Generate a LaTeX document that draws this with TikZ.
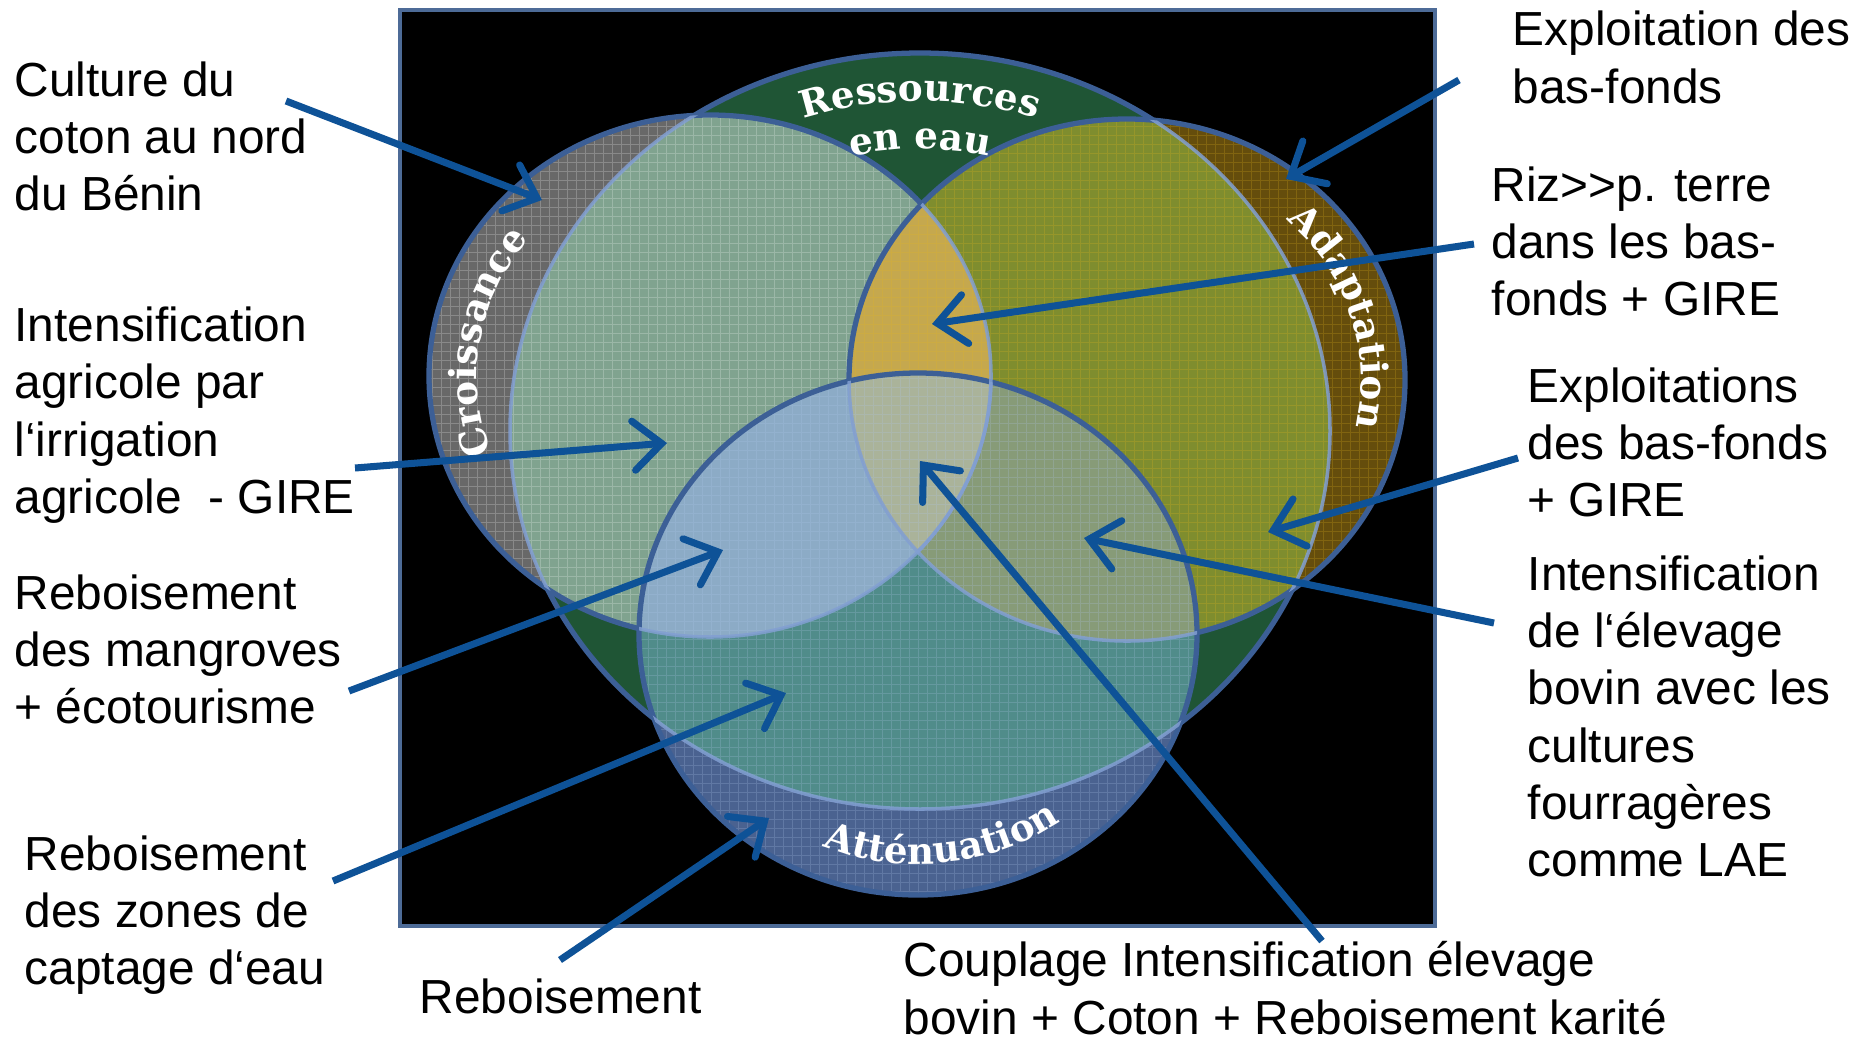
\documentclass[tikz,border=0pt]{standalone}
\usepackage{fontspec}
\setmainfont{Liberation Sans}
\newfontfamily\arcfont{DejaVu Serif}
\usetikzlibrary{arrows.meta,decorations.text}
\definecolor{Gc}{HTML}{1F5535}
\definecolor{Conly}{HTML}{686868}
\definecolor{CG}{HTML}{80A38F}
\definecolor{Aonly}{HTML}{654D0C}
\definecolor{AG}{HTML}{7F8D2E}
\definecolor{CA}{HTML}{C5A84E}
\definecolor{Tonly}{HTML}{4A6290}
\definecolor{TG}{HTML}{508C8A}
\definecolor{TC}{HTML}{8CABC6}
\definecolor{TA}{HTML}{879B78}
\definecolor{TCA}{HTML}{AAB39A}
\definecolor{edgec}{HTML}{3C5F96}
\definecolor{faintc}{HTML}{829FD2}
\definecolor{arrowblue}{HTML}{0E5297}
\definecolor{framec}{HTML}{4D6B97}
\definecolor{gridT}{HTML}{B0C8EE}
\definecolor{gridA}{HTML}{E8B820}
\newcommand\arcsty{\arcfont\bfseries\fontsize{10.6}{12}\selectfont}
\begin{document}
\begin{tikzpicture}[x=0.01cm,y=-0.01cm,
  lbl/.style={anchor=west, align=left, inner sep=0pt, text=black,
    font=\fontsize{13.6}{16.3}\selectfont},
  arr/.style={draw=arrowblue, line width=2.0pt,
    -{Straight Barb[length=8pt,width=14pt,line cap=round]}},
  strongedge/.style={draw=edgec, line width=1.5pt},
  faintline/.style={draw=faintc, line width=1pt, opacity=0.85},
  texture/.style={draw=#1, line width=0.3pt, draw opacity=0.22, step=2.56pt},
  arclabel/.style={decorate, decoration={text along path, text align=center,
    text color=white, text={|\arcsty|#1}}}]
\useasboundingbox (0,0) rectangle (1867,1039);
\fill[white] (0,0) rectangle (1867,1039);
\draw[framec, line width=1.2pt, fill=black] (400,10) rectangle (1435,926);

\def\Gell{(920,431) ellipse [x radius=410, y radius=378]}
\def\Cell{(710,376) ellipse [x radius=281, y radius=261]}
\def\Aell{(1127,380) ellipse [x radius=278, y radius=261]}
\def\Tell{(918,634) ellipse [x radius=279, y radius=261]}

% Ressources en eau
\fill[Gc] \Gell;
\draw[strongedge] \Gell;
% Croissance
\fill[Conly] \Cell;
\begin{scope}\clip \Cell; \fill[CG] \Gell;
  \draw[texture=white] (420,650) grid (1000,100);\end{scope}
\draw[strongedge] \Cell;
% Adaptation
\fill[Aonly] \Aell;
\begin{scope}\clip \Aell; \fill[AG] \Gell; \clip \Cell; \fill[CA] \Gell;\end{scope}
\begin{scope}\clip \Aell; \draw[texture=gridA] (840,650) grid (1410,110);\end{scope}
\draw[strongedge] \Aell;
% Attenuation
\fill[Tonly] \Tell;
\begin{scope}\clip \Tell; \fill[TG] \Gell;
  \begin{scope}\clip \Cell; \fill[TC] \Gell;\end{scope}
  \begin{scope}\clip \Aell; \fill[TA] \Gell; \clip \Cell; \fill[TCA] \Gell;\end{scope}
  \draw[texture=gridT] (630,900) grid (1200,370);
\end{scope}
\draw[strongedge] \Tell;
% faint edges seen through upper layers
\begin{scope}\clip \Cell; \draw[faintline] \Gell;\end{scope}
\begin{scope}\clip \Aell; \draw[faintline] \Gell; \draw[faintline] \Cell;\end{scope}
\begin{scope}\clip \Tell; \draw[faintline] \Gell; \draw[faintline] \Cell; \draw[faintline] \Aell;\end{scope}

% curved titles
\path[arclabel={Ressources}] (920,431) ++(225:358 and 330) arc[start angle=225, end angle=315, x radius=358, y radius=330];
\path[arclabel={en eau}] (920,431) ++(235:306 and 282) arc[start angle=235, end angle=305, x radius=306, y radius=282];
\path[arclabel={Croissance}] (710,376) ++(139:233 and 217) arc[start angle=139, end angle=239, x radius=233, y radius=217];
\path[arclabel={Adaptation}] (1127,380) ++(-67:234 and 219) arc[start angle=-67, end angle=33, x radius=234, y radius=219];
\path[arclabel={Atténuation}] (918,634) ++(133.5:246 and 230) arc[start angle=133.5, end angle=33.5, x radius=246, y radius=230];

% labels
\node[lbl] (l1) at (14,142) {\strut Culture du\\\strut coton au nord\\\strut du Bénin};
\node[lbl] (l2) at (14,416) {\strut Intensification\\\strut agricole par\\\strut l‘irrigation\\\strut agricole \ - GIRE};
\node[lbl] (l3) at (14,655) {\strut Reboisement\\\strut des mangroves\\\strut + écotourisme};
\node[lbl] (l4) at (24,916) {\strut Reboisement\\\strut des zones de\\\strut captage d‘eau};
\node[lbl] (l5) at (419,1002) {\strut Reboisement};
\node[lbl] (l6) at (903,994) {\strut Couplage Intensification élevage\\\strut bovin + Coton + Reboisement karité};
\node[lbl] (l7) at (1512,63) {\strut Exploitation des\\\strut bas-fonds};
\node[lbl] (l8) at (1491,247) {\strut Riz>\kern0pt>p. terre\\\strut dans les bas-\\\strut fonds + GIRE};
\node[lbl] (l9) at (1527,448) {\strut Exploitations\\\strut des bas-fonds\\\strut + GIRE};
\node[lbl] (l10) at (1527,722) {\strut Intensification\\\strut de l‘élevage\\\strut bovin avec les\\\strut cultures\\\strut fourragères\\\strut comme LAE};

% arrow ends
\coordinate (s1) at (286,101);  \coordinate (t1) at (542,200);
\coordinate (s2) at (355,468);  \coordinate (t2) at (667,443);
\coordinate (s3) at (349,691);  \coordinate (t3) at (723,550);
\coordinate (s4) at (333,881);  \coordinate (t4) at (786,693);
\coordinate (s5) at (560,960);  \coordinate (t5) at (769,818);
\coordinate (s6) at (1322,941); \coordinate (t6) at (920,461);
\coordinate (s7) at (1459,80);  \coordinate (t7) at (1286,179);
\coordinate (s8) at (1474,244); \coordinate (t8) at (932,324);
\coordinate (s9) at (1518,458); \coordinate (t9) at (1268,532);
\coordinate (s10) at (1494,623); \coordinate (t10) at (1084,538);
\foreach \i in {1,...,10} {\draw[arr] (s\i) -- (t\i);}
\end{tikzpicture}
\end{document}
